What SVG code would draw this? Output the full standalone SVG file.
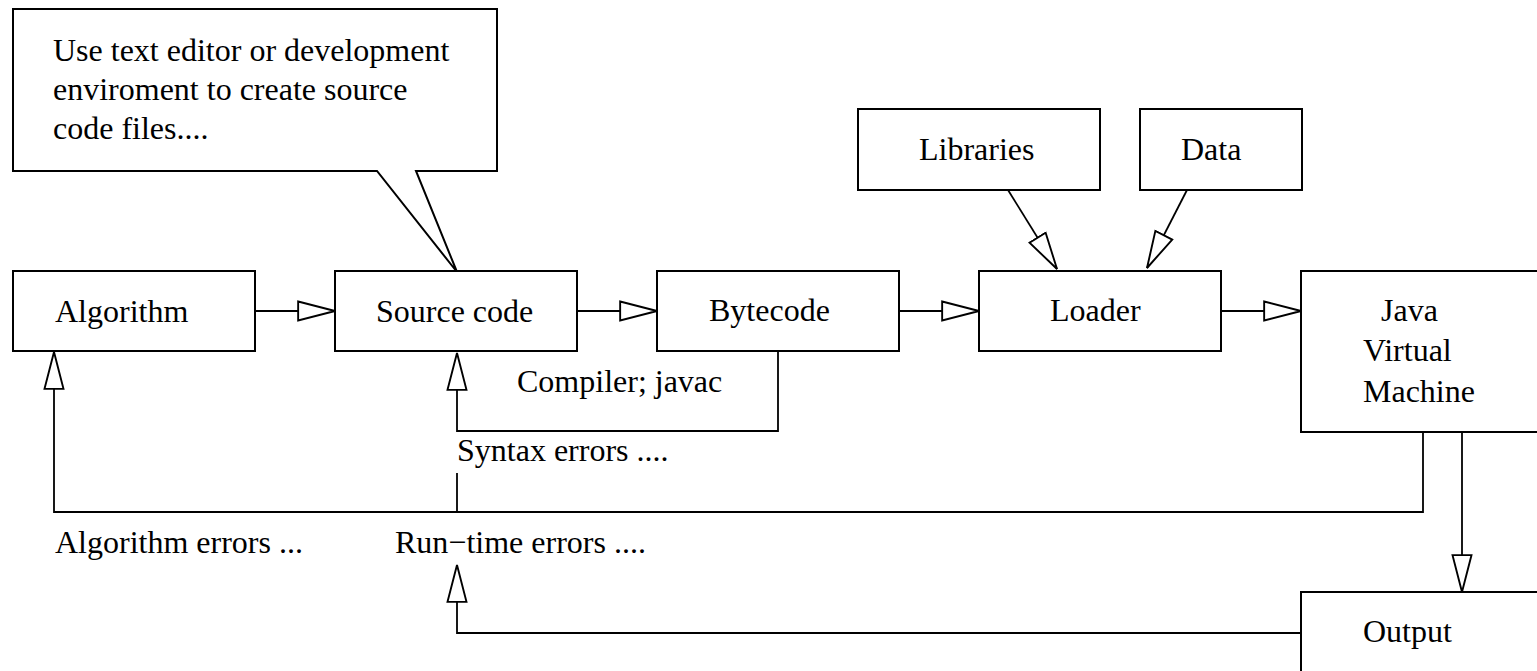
<svg xmlns="http://www.w3.org/2000/svg" width="1537" height="671" viewBox="0 0 1537 671">
<style>
.box{fill:#fff;stroke:#000;stroke-width:2}
.ln{fill:none;stroke:#000;stroke-width:1.8}
text{font-family:"Liberation Serif","Times New Roman",serif;font-size:32px;fill:#000}
</style>
<defs>
<marker id="open" markerUnits="userSpaceOnUse" markerWidth="40" markerHeight="22" refX="35" refY="9" orient="auto" viewBox="-1 -1 38 20">
<path d="M0,0 L35,9 L0,18 Z" fill="#fff" stroke="#000" stroke-width="1.8"/>
</marker>
</defs>
<rect width="1537" height="671" fill="#fff"/>
<g id="callout">
<path class="box" d="M13,9 H497 V171 H416 L457,272 L377,171 H13 Z"/>
<text x="53" y="61">Use text editor or development</text>
<text x="53" y="100">enviroment to create source</text>
<text x="53" y="139">code files....</text>
</g>
<g id="algorithm"><rect class="box" x="13" y="271" width="242" height="80"/><text x="55" y="322">Algorithm</text></g>
<g id="source"><rect class="box" x="335" y="271" width="242" height="80"/><text x="376" y="322">Source code</text></g>
<g id="bytecode"><rect class="box" x="657" y="271" width="242" height="80"/><text x="709" y="321">Bytecode</text></g>
<g id="loader"><rect class="box" x="979" y="271" width="242" height="80"/><text x="1050" y="321">Loader</text></g>
<g id="libraries"><rect class="box" x="858" y="109" width="242" height="81"/><text x="919" y="160">Libraries</text></g>
<g id="data"><rect class="box" x="1140" y="109" width="162" height="81"/><text x="1181" y="160">Data</text></g>
<g id="jvm"><rect class="box" x="1301" y="271" width="260" height="161"/><text x="1381" y="321">Java</text><text x="1363" y="361">Virtual</text><text x="1363" y="402">Machine</text></g>
<g id="output"><rect class="box" x="1301" y="592" width="260" height="100"/><text x="1363" y="642">Output</text></g>
<g id="connectors">
<path class="ln" d="M255,311 H335" marker-end="url(#open)"/>
<path class="ln" d="M577,311 H657" marker-end="url(#open)"/>
<path class="ln" d="M899,311 H979" marker-end="url(#open)"/>
<path class="ln" d="M1221,311 H1301" marker-end="url(#open)"/>
<path class="ln" d="M1008,190 L1057,269" marker-end="url(#open)"/>
<path class="ln" d="M1187,190 L1147,268" marker-end="url(#open)"/>
<path class="ln" d="M778,351 V431 H457 V353" marker-end="url(#open)"/>
<path class="ln" d="M1423,432 V512 H54 V352" marker-end="url(#open)"/>
<path class="ln" d="M457,473 V512"/>
<path class="ln" d="M367,512 H385" stroke-width="3"/>
<path class="ln" d="M1462,432 V592" marker-end="url(#open)"/>
<path class="ln" d="M1301,633 H457 V565" marker-end="url(#open)"/>
</g>
<g id="labels">
<text x="517" y="392">Compiler; javac</text>
<text x="457" y="461">Syntax errors ....</text>
<text x="55" y="553">Algorithm errors ...</text>
<text x="395" y="553">Run−time errors ....</text>
</g>
</svg>
